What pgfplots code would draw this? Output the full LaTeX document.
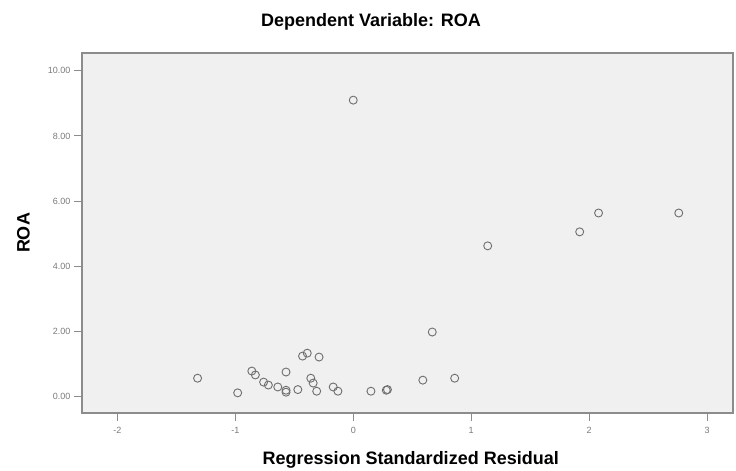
\documentclass[border=0pt]{standalone}
\usepackage{fontspec}
\setmainfont{Liberation Sans}
\usepackage{pgfplots}
\pgfplotsset{compat=1.18}
\definecolor{plotbg}{HTML}{F0F0F0}
\definecolor{markgray}{HTML}{6E6E6E}
\definecolor{axisgray}{HTML}{8C8C8C}
\definecolor{ticktext}{HTML}{7A7A7A}
\begin{document}
\begin{tikzpicture}
\useasboundingbox (-82pt,-58pt) rectangle (654pt,413pt);
\begin{axis}[
  at={(0,0)},anchor=south west,
  scale only axis,width=651pt,height=360pt,
  xmin=-2.30,xmax=3.22,ymin=-0.52,ymax=10.55,
  xtick={-2,-1,0,1,2,3},
  ytick={0,2,4,6,8,10},
  yticklabel={\pgfmathprintnumber[fixed,fixed zerofill,precision=2]{\tick}},
  /pgf/number format/assume math mode=true,
  tick align=outside,major tick length=8pt,
  tick style={draw=axisgray,line width=0.9pt},
  axis line style={draw=axisgray,line width=1.2pt},
  axis background/.style={fill=plotbg},
  tick label style={font=\fontsize{9}{10}\selectfont,text=ticktext},
  xticklabel style={yshift=-3pt},
  xtick pos=bottom,ytick pos=left,
  title={\bfseries Dependent Variable: ROA},
  title style={font=\fontsize{18}{20}\selectfont,at={(0.444,1)},anchor=center,yshift=25pt},
  xlabel={\bfseries Regression Standardized Residual},
  ylabel={\bfseries ROA},
  label style={font=\fontsize{18}{20}\selectfont},
  xlabel style={at={(0.505,0)},anchor=center,yshift=-47pt},
  ylabel style={at={(axis description cs:-0.09,0.5)},anchor=center},
]
\addplot[only marks,mark=o,mark size=4pt,mark options={draw=markgray,line width=0.9pt}] coordinates {
  (0.00,9.10) (2.08,5.63) (1.92,5.05) (2.76,5.63) (1.14,4.62)
  (0.67,1.97) (0.59,0.49) (0.86,0.55) (0.29,0.20) (0.28,0.18)
  (0.15,0.15) (-1.32,0.55) (-0.98,0.10) (-0.86,0.77) (-0.83,0.65)
  (-0.76,0.43) (-0.72,0.34) (-0.64,0.28) (-0.57,0.18) (-0.57,0.12)
  (-0.57,0.74) (-0.47,0.20) (-0.43,1.23) (-0.39,1.32) (-0.29,1.20)
  (-0.36,0.55) (-0.34,0.40) (-0.31,0.15) (-0.17,0.28) (-0.13,0.15)
};
\end{axis}
\end{tikzpicture}
\end{document}
